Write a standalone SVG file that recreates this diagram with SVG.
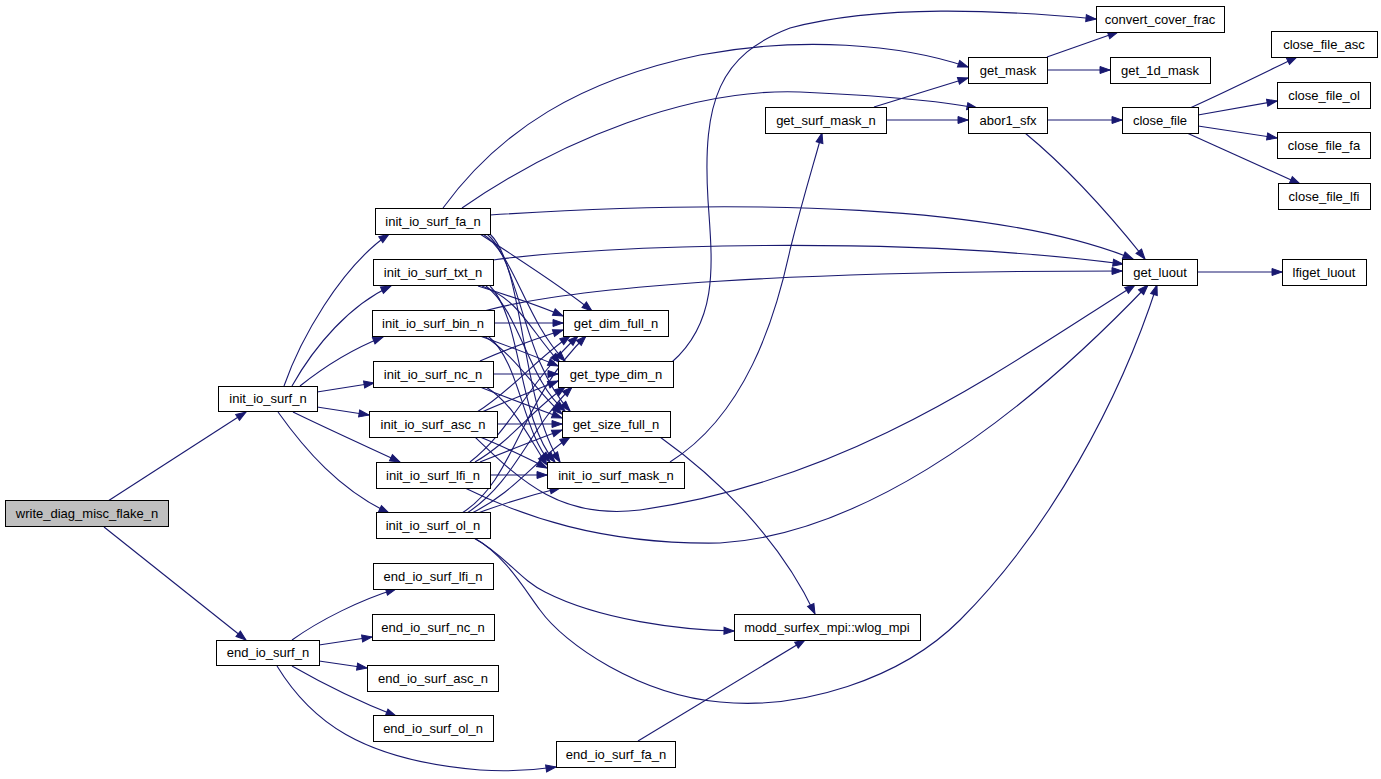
<svg xmlns="http://www.w3.org/2000/svg" width="1381" height="779" viewBox="0 0 1381 779">
<style>
.n rect{fill:#fff;stroke:#000;stroke-width:1}
.n.root rect{fill:#bfbfbf}
.n text{font-family:"Liberation Sans",Arial,sans-serif;font-size:13px;text-anchor:middle;fill:#000}
#edges path{fill:none;stroke:#191970;stroke-width:1.1;marker-end:url(#ah)}
</style>
<defs>
<marker id="ah" viewBox="0 0 10 7" refX="10" refY="3.5" markerWidth="10" markerHeight="7" markerUnits="userSpaceOnUse" orient="auto" overflow="visible">
<path d="M0,0 L10,3.5 L0,7 Z" fill="#191970" stroke="#191970" stroke-width="1"/>
</marker>
</defs>
<rect width="1381" height="779" fill="#fff"/>
<g id="edges">
<path d="M108,501 L246,412"/>
<path d="M104,527 L246,640"/>
<path d="M284,386 C300,340 340,268 389,234"/>
<path d="M292,386 C315,345 350,305 391,286"/>
<path d="M300,386 C320,370 350,350 383,337"/>
<path d="M317,392 L374,383"/>
<path d="M317,407 L369,415"/>
<path d="M293,412 C330,430 370,448 400,462"/>
<path d="M278,412 C305,450 340,490 389,513"/>
<path d="M292,640 C320,620 360,600 396,589"/>
<path d="M319,645 L372,637"/>
<path d="M319,661 L367,668"/>
<path d="M292,666 C320,682 360,702 396,716"/>
<path d="M277,666 C310,720 360,760 480,770 C510,772 535,770 556,767"/>
<path d="M638,741 L805,640"/>
<path d="M443,208 C500,130 580,80 700,55 C800,36 900,44 968,67"/>
<path d="M462,208 C560,140 690,88 800,92 C890,96 945,102 977,108"/>
<path d="M490,215 C750,198 1000,205 1133,259"/>
<path d="M493,260 C600,245 900,235 1123,264"/>
<path d="M484,311 C580,285 800,271 1122,271"/>
<path d="M480,234 C520,260 560,285 592,311"/>
<path d="M483,234 C515,255 525,320 565,361"/>
<path d="M487,234 C520,262 522,360 570,411"/>
<path d="M490,234 C525,268 520,400 560,462"/>
<path d="M478,286 C510,296 540,306 563,316"/>
<path d="M482,286 C520,300 530,330 560,363"/>
<path d="M486,286 C520,312 528,380 565,411"/>
<path d="M490,286 C522,318 518,420 555,462"/>
<path d="M495,323 L563,323"/>
<path d="M480,336 C505,345 535,356 558,366"/>
<path d="M484,336 C515,355 535,390 562,414"/>
<path d="M488,336 C520,362 522,430 550,462"/>
<path d="M480,361 C505,350 535,339 563,330"/>
<path d="M493,374 L558,374"/>
<path d="M480,387 C505,397 535,408 562,418"/>
<path d="M486,387 C515,405 530,440 547,465"/>
<path d="M477,412 C510,392 535,360 570,336"/>
<path d="M482,412 C505,402 535,390 558,381"/>
<path d="M497,424 L562,424"/>
<path d="M480,437 C505,447 527,458 547,468"/>
<path d="M470,462 C510,432 530,380 578,336"/>
<path d="M475,462 C510,442 532,410 565,387"/>
<path d="M480,462 C505,452 535,440 562,430"/>
<path d="M490,475 L547,475"/>
<path d="M462,513 C515,480 520,400 586,336"/>
<path d="M467,513 C515,482 528,430 572,387"/>
<path d="M472,513 C515,492 535,460 570,437"/>
<path d="M478,513 C505,503 535,494 560,488"/>
<path d="M475,437 C520,480 560,520 640,510 C850,480 1000,370 1135,285"/>
<path d="M465,488 C520,515 600,545 720,543 C850,535 1000,440 1148,285"/>
<path d="M474,538 C505,555 525,590 540,610 C565,645 640,695 720,702 C800,710 900,680 960,620 C1050,530 1120,400 1157,285"/>
<path d="M474,538 C505,555 520,580 545,592 C600,620 680,630 734,631"/>
<path d="M672,362 C720,320 712,260 708,200 C702,100 720,55 790,28 C880,4 1000,10 1096,19"/>
<path d="M670,462 C745,415 775,320 790,250 C805,190 815,160 822,133"/>
<path d="M660,437 C720,480 780,540 815,614"/>
<path d="M874,107 L968,78"/>
<path d="M886,120 L968,120"/>
<path d="M1047,57 L1118,32"/>
<path d="M1047,70 L1110,70"/>
<path d="M1047,120 L1122,120"/>
<path d="M1025,133 C1070,170 1110,215 1145,259"/>
<path d="M1190,108 C1230,90 1270,70 1297,57"/>
<path d="M1198,115 L1277,101"/>
<path d="M1198,126 L1277,138"/>
<path d="M1187,133 L1300,184"/>
<path d="M1197,272 L1282,272"/>
</g>
<g id="write_diag_misc_flake_n" class="n root"><rect x="5.5" y="500.5" width="163" height="26"/><text x="87" y="518">write_diag_misc_flake_n</text></g>
<g id="init_io_surf_n" class="n"><rect x="218.5" y="386.5" width="99" height="25"/><text x="268" y="403">init_io_surf_n</text></g>
<g id="end_io_surf_n" class="n"><rect x="216.5" y="640.5" width="103" height="25"/><text x="268" y="657">end_io_surf_n</text></g>
<g id="init_io_surf_fa_n" class="n"><rect x="375.5" y="208.5" width="115" height="26"/><text x="433" y="226">init_io_surf_fa_n</text></g>
<g id="init_io_surf_txt_n" class="n"><rect x="373.5" y="259.5" width="120" height="26"/><text x="433" y="277">init_io_surf_txt_n</text></g>
<g id="init_io_surf_bin_n" class="n"><rect x="372.5" y="310.5" width="122" height="26"/><text x="433" y="328">init_io_surf_bin_n</text></g>
<g id="init_io_surf_nc_n" class="n"><rect x="373.5" y="361.5" width="120" height="26"/><text x="433" y="379">init_io_surf_nc_n</text></g>
<g id="init_io_surf_asc_n" class="n"><rect x="369.5" y="411.5" width="128" height="26"/><text x="433" y="429">init_io_surf_asc_n</text></g>
<g id="init_io_surf_lfi_n" class="n"><rect x="376.5" y="462.5" width="114" height="26"/><text x="433" y="480">init_io_surf_lfi_n</text></g>
<g id="init_io_surf_ol_n" class="n"><rect x="376.5" y="512.5" width="114" height="26"/><text x="433" y="530">init_io_surf_ol_n</text></g>
<g id="end_io_surf_lfi_n" class="n"><rect x="373.5" y="563.5" width="120" height="26"/><text x="433" y="581">end_io_surf_lfi_n</text></g>
<g id="end_io_surf_nc_n" class="n"><rect x="372.5" y="614.5" width="122" height="26"/><text x="433" y="632">end_io_surf_nc_n</text></g>
<g id="end_io_surf_asc_n" class="n"><rect x="367.5" y="665.5" width="131" height="26"/><text x="433" y="683">end_io_surf_asc_n</text></g>
<g id="end_io_surf_ol_n" class="n"><rect x="373.5" y="715.5" width="120" height="26"/><text x="433" y="733">end_io_surf_ol_n</text></g>
<g id="end_io_surf_fa_n" class="n"><rect x="556.5" y="741.5" width="119" height="26"/><text x="616" y="759">end_io_surf_fa_n</text></g>
<g id="get_dim_full_n" class="n"><rect x="563.5" y="310.5" width="105" height="26"/><text x="616" y="328">get_dim_full_n</text></g>
<g id="get_type_dim_n" class="n"><rect x="558.5" y="361.5" width="115" height="26"/><text x="616" y="379">get_type_dim_n</text></g>
<g id="get_size_full_n" class="n"><rect x="562.5" y="411.5" width="108" height="26"/><text x="616" y="429">get_size_full_n</text></g>
<g id="init_io_surf_mask_n" class="n"><rect x="547.5" y="462.5" width="137" height="26"/><text x="616" y="480">init_io_surf_mask_n</text></g>
<g id="wlog_mpi" class="n"><rect x="734.5" y="614.5" width="186" height="26"/><text x="827" y="632">modd_surfex_mpi::wlog_mpi</text></g>
<g id="get_surf_mask_n" class="n"><rect x="765.5" y="107.5" width="121" height="26"/><text x="826" y="125">get_surf_mask_n</text></g>
<g id="convert_cover_frac" class="n"><rect x="1096.5" y="6.5" width="128" height="26"/><text x="1160" y="24">convert_cover_frac</text></g>
<g id="get_mask" class="n"><rect x="968.5" y="57.5" width="79" height="26"/><text x="1008" y="75">get_mask</text></g>
<g id="get_1d_mask" class="n"><rect x="1110.5" y="57.5" width="100" height="26"/><text x="1160" y="75">get_1d_mask</text></g>
<g id="abor1_sfx" class="n"><rect x="968.5" y="107.5" width="79" height="26"/><text x="1008" y="125">abor1_sfx</text></g>
<g id="close_file" class="n"><rect x="1122.5" y="107.5" width="76" height="26"/><text x="1160" y="125">close_file</text></g>
<g id="close_file_asc" class="n"><rect x="1271.5" y="31.5" width="106" height="26"/><text x="1324" y="49">close_file_asc</text></g>
<g id="close_file_ol" class="n"><rect x="1277.5" y="82.5" width="93" height="26"/><text x="1324" y="100">close_file_ol</text></g>
<g id="close_file_fa" class="n"><rect x="1277.5" y="132.5" width="93" height="26"/><text x="1324" y="150">close_file_fa</text></g>
<g id="close_file_lfi" class="n"><rect x="1278.5" y="183.5" width="92" height="26"/><text x="1324" y="201">close_file_lfi</text></g>
<g id="get_luout" class="n"><rect x="1122.5" y="259.5" width="75" height="26"/><text x="1160" y="277">get_luout</text></g>
<g id="lfiget_luout" class="n"><rect x="1282.5" y="259.5" width="84" height="26"/><text x="1324" y="277">lfiget_luout</text></g>
</svg>
